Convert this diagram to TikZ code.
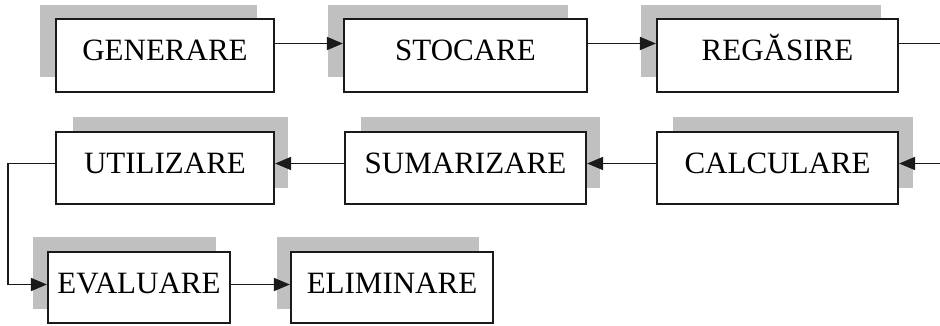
\documentclass[tikz,border=0pt]{standalone}
\usepackage{fontspec}
\setmainfont{Liberation Serif}
\usetikzlibrary{arrows.meta}
\definecolor{shadowgray}{HTML}{C0C0C0}
\definecolor{inkline}{HTML}{1A1A1A}
\tikzset{
  stepbox/.style={draw=inkline, line width=2.2pt, fill=white, inner sep=0pt, rectangle},
  shade/.style={fill=shadowgray, draw=none},
  lbl/.style={inner sep=0pt, anchor=base, font=\fontsize{31}{36}\selectfont, text=black},
  conn/.style={draw=inkline, line width=1.7pt},
  arr/.style={conn, -{Triangle[length=16pt,width=13pt]}}
}
\begin{document}
\begin{tikzpicture}[x=1pt,y=-1pt]
\useasboundingbox (0,0) rectangle (940,325);
% shadows
\fill[shade] (40,5) rectangle (257,77);
\fill[shade] (328,5) rectangle (568,77);
\fill[shade] (641,5) rectangle (881,77);
\fill[shade] (673,117) rectangle (913,188);
\fill[shade] (361,117) rectangle (600,188);
\fill[shade] (73,117) rectangle (288,188);
\fill[shade] (33,237) rectangle (216,309);
\fill[shade] (277,237) rectangle (479,309);
% boxes
\node[stepbox, minimum width=218pt, minimum height=73pt] (b1) at (165,55.5) {};
\node[stepbox, minimum width=243pt, minimum height=73pt] (b2) at (465.5,55.5) {};
\node[stepbox, minimum width=241pt, minimum height=73pt] (b3) at (777.5,55.5) {};
\node[stepbox, minimum width=241pt, minimum height=72pt] (b4) at (777.5,168) {};
\node[stepbox, minimum width=241pt, minimum height=72pt] (b5) at (465.5,168) {};
\node[stepbox, minimum width=218pt, minimum height=72pt] (b6) at (165,168) {};
\node[stepbox, minimum width=182pt, minimum height=71pt] (b7) at (139,287.5) {};
\node[stepbox, minimum width=202pt, minimum height=71pt] (b8) at (392,287.5) {};
% labels
\node[lbl] (t1) at (165,60) {GENERARE};
\node[lbl] (t2) at (465.5,60) {STOCARE};
\node[lbl] (t3) at (777.5,60) {REGĂSIRE};
\node[lbl] (t4) at (777.5,173) {CALCULARE};
\node[lbl] (t5) at (465.5,173) {SUMARIZARE};
\node[lbl] (t6) at (165,173) {UTILIZARE};
\node[lbl] (t7) at (139,293) {EVALUARE};
\node[lbl] (t8) at (392,293) {ELIMINARE};
% free ends
\coordinate (out1) at (940,43.5);
\coordinate (in2) at (940,163.5);
\coordinate (bend1) at (8,163.5);
\coordinate (bend2) at (8,284.5);
% connectors
\draw[arr] ([yshift=12pt]b1.east) -- ([yshift=12pt]b2.west);
\draw[arr] ([yshift=12pt]b2.east) -- ([yshift=12pt]b3.west);
\draw[conn] ([yshift=12pt]b3.east) -- (out1);
\draw[arr] (in2) -- ([yshift=4.5pt]b4.east);
\draw[arr] ([yshift=4.5pt]b4.west) -- ([yshift=4.5pt]b5.east);
\draw[arr] ([yshift=4.5pt]b5.west) -- ([yshift=4.5pt]b6.east);
\draw[arr] ([yshift=4.5pt]b6.west) -- (bend1) -- (bend2) -- (bend2 -| b7.west);
\draw[arr] ([yshift=3pt]b7.east) -- ([yshift=3pt]b8.west);
\end{tikzpicture}
\end{document}
